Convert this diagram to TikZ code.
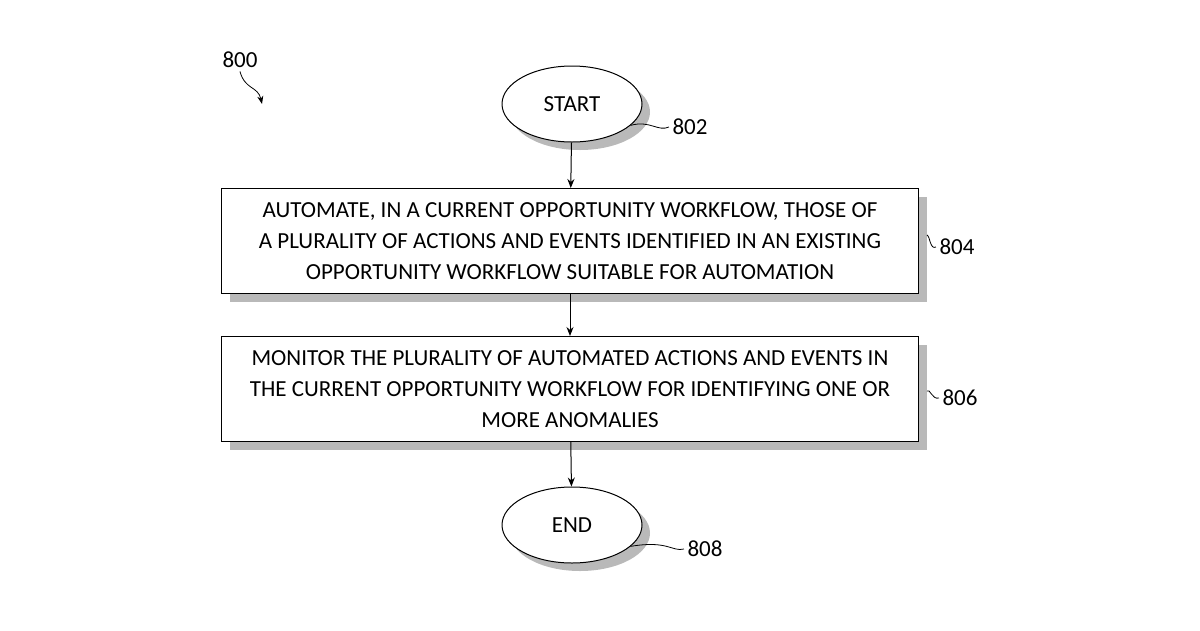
\documentclass[tikz,border=0pt]{standalone}
\usepackage{fontspec}
\setmainfont{Carlito}
\usetikzlibrary{shapes.geometric,arrows.meta,positioning,shadows}
\tikzset{
  term/.style={shape=ellipse,draw=black,line width=1pt,minimum width=140pt,minimum height=76pt,fill=white,
    drop shadow={shadow xshift=8pt,shadow yshift=-8pt,fill=gray!55,opacity=1}},
  action/.style={shape=rectangle,draw=black,line width=1pt,minimum width=697pt,minimum height=105pt,fill=white,align=center,
    drop shadow={shadow xshift=8pt,shadow yshift=-8pt,fill=gray!55,opacity=1}},
  flow/.style={-{Stealth[length=9pt,width=7pt]},line width=1pt},
  lead/.style={line width=0.8pt}
}
\begin{document}
\begin{tikzpicture}[x=1pt,y=-1pt,font=\fontsize{23}{31}\selectfont]
\useasboundingbox (0,0) rectangle (1200,630);
\node[term] (start) at (572,104) {START};
\node[action] (a) at (570,241) {AUTOMATE, IN A CURRENT OPPORTUNITY WORKFLOW, THOSE OF\\A PLURALITY OF ACTIONS AND EVENTS IDENTIFIED IN AN EXISTING\\OPPORTUNITY WORKFLOW SUITABLE FOR AUTOMATION};
\node[action] (b) at (570,389) {MONITOR THE PLURALITY OF AUTOMATED ACTIONS AND EVENTS IN\\THE CURRENT OPPORTUNITY WORKFLOW FOR IDENTIFYING ONE OR\\MORE ANOMALIES};
\node[term] (end) at (572,525) {END};

\node (l800) at (240,60) {800};
\node (l802) at (690,127) {802};
\node (l804) at (957,247) {804};
\node (l806) at (960,398) {806};
\node (l808) at (705,549) {808};
\coordinate (p800) at (262,104);

\draw[flow] (start) -- (a);
\draw[flow] (a) -- (b);
\draw[flow] (b) -- (end);

\draw[lead,-{Stealth[length=8pt,width=6pt]}] (l800.south) .. controls (245,90) and (258,86) .. (p800);
\draw[lead] (start.-20) .. controls (650,120) and (658,132) .. (l802.west);
\draw[lead] (a.east) ++(8,-6) .. controls (930,236) and (930,250) .. (l804.west);
\draw[lead] (b.east) ++(8,2) .. controls (930,388) and (932,400) .. (l806.west);
\draw[lead] (end.-20) .. controls (668,540) and (672,552) .. (l808.west);
\end{tikzpicture}
\end{document}
